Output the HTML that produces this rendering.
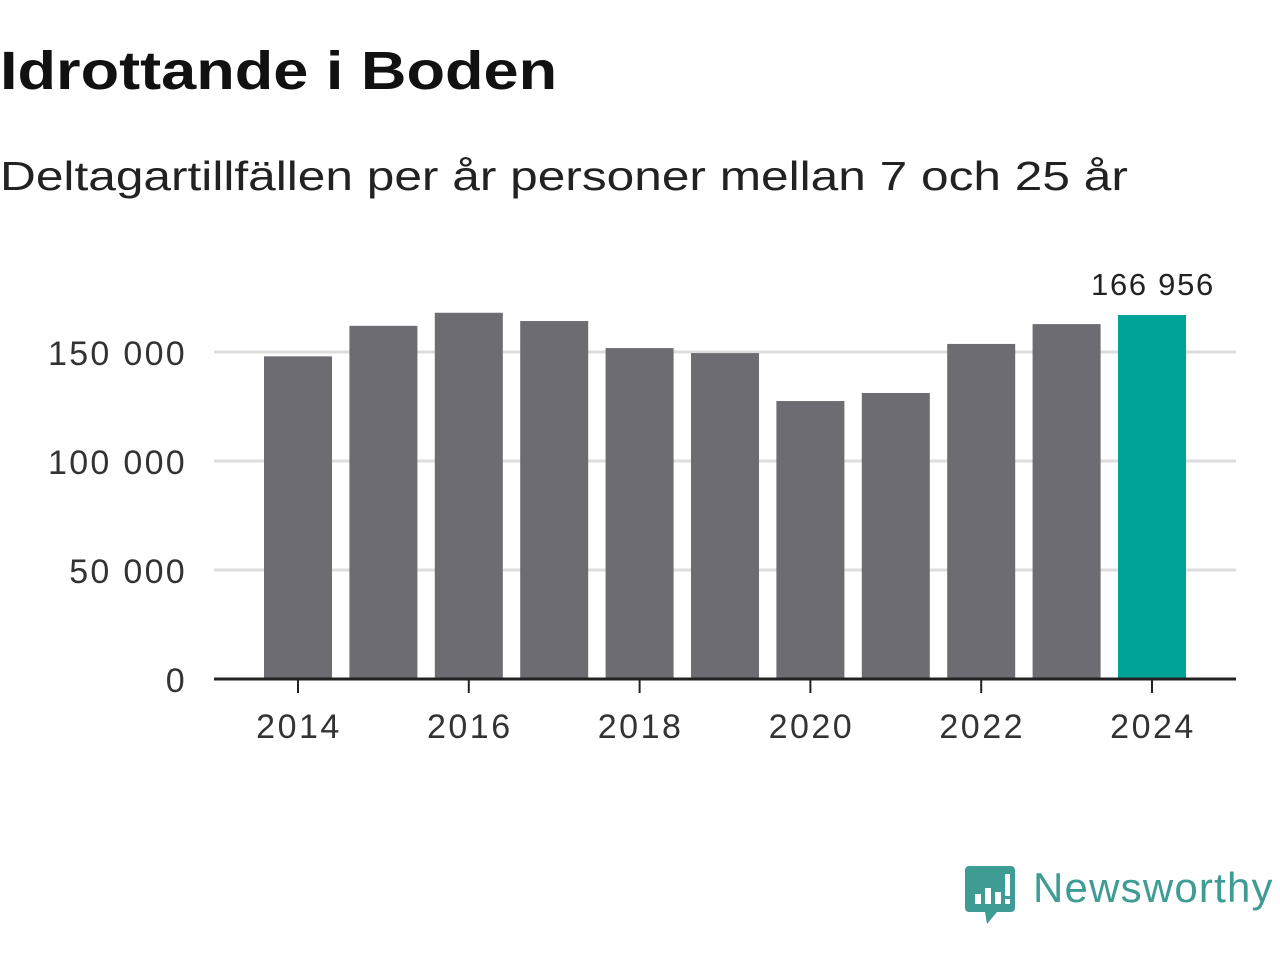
<!DOCTYPE html>
<html><head><meta charset="utf-8"><style>
body{margin:0;width:1280px;height:960px;background:#fff;font-family:"Liberation Sans",sans-serif;overflow:hidden;position:relative}
h1{position:absolute;left:0;top:40px;margin:0;font-size:54px;font-weight:bold;color:#111;transform:scaleX(1.168);transform-origin:0 0;white-space:nowrap}
.sub{position:absolute;left:0;top:153px;font-size:41px;color:#222;transform:scaleX(1.21);transform-origin:0 0;white-space:nowrap}
svg{position:absolute;left:0;top:0}
</style></head><body>
<h1>Idrottande i Boden</h1>
<div class="sub">Deltagartillfällen per år personer mellan 7 och 25 år</div>
<svg id="c" width="1280" height="960"></svg>
<div style="position:absolute;left:965px;top:866px;">
<svg width="52" height="60" style="position:absolute;left:0;top:0"><path d="M4 0h42a4 4 0 0 1 4 4v38a4 4 0 0 1-4 4H32l-10 12 -2-12H4a4 4 0 0 1-4-4V4a4 4 0 0 1 4-4z" fill="#3f9c94"/><rect x="10" y="28" width="6" height="10" fill="#fff"/><rect x="20" y="22" width="6" height="16" fill="#fff"/><rect x="30" y="26" width="6" height="12" fill="#fff"/><rect x="40" y="8" width="5" height="22" fill="#fff"/><rect x="40" y="33" width="5" height="5" fill="#fff"/></svg>
<span style="position:absolute;left:68px;top:-2px;font-size:42px;color:#3f9c94;white-space:nowrap;letter-spacing:1.2px">Newsworthy</span>
</div>
<script>
const years=[2014,2015,2016,2017,2018,2019,2020,2021,2022,2023,2024];
const values=[148000,162000,168000,164200,151800,149500,127500,131200,153700,162800,166956];
const yTicks=[0,50000,100000,150000];
const yTickLabels=["0","50 000","100 000","150 000"];
const xTickYears=[2014,2016,2018,2020,2022,2024];
const ns="http://www.w3.org/2000/svg",s=document.getElementById('c');
const y=v=>679-v*0.00218, x=yr=>298+(yr-2014)*85.4;
function mk(t,a){const e=document.createElementNS(ns,t);for(const k in a)e.setAttribute(k,a[k]);s.appendChild(e);return e;}
yTicks.forEach((v,i)=>{
 if(v>0){const g=mk('line',{x1:214,x2:1236,y1:y(v),y2:y(v),stroke:'#ddd','stroke-width':3});
 
 }
 const t=mk('text',{x:187,y:y(v)+13,'text-anchor':'end','font-size':34,fill:'#333','letter-spacing':2.3,'font-family':'Liberation Sans, sans-serif'});
 t.textContent=yTickLabels[i];
 
 
});
years.forEach((yr,i)=>{
 const last=i===years.length-1;
 const r=mk('rect',{x:x(yr)-34,y:y(values[i]),width:68,height:679-y(values[i]),fill:last?'#00a398':'#6d6c72'});
 
 
 if(last){const t=mk('text',{x:x(yr)+1,y:y(values[i])-20,'text-anchor':'middle','font-size':31,fill:'#222','letter-spacing':1.7,'font-family':'Liberation Sans, sans-serif'});
 t.textContent=values[i].toLocaleString('en').replace(/,/g,' ');
 
 }
});
const ax=mk('line',{x1:214,x2:1236,y1:679,y2:679,stroke:'#222','stroke-width':3});


xTickYears.forEach(yr=>{
 const tk=mk('line',{x1:x(yr),x2:x(yr),y1:679,y2:693,stroke:'#222','stroke-width':2});
 
 
 const t=mk('text',{x:x(yr)+1,y:738,'text-anchor':'middle','font-size':34,fill:'#333','letter-spacing':2.5,'font-family':'Liberation Sans, sans-serif'});
 t.textContent=yr;
 
 
});
</script>
</body></html>
